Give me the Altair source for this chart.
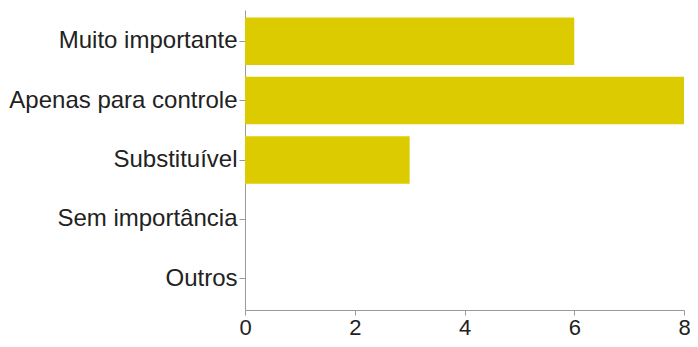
import altair as alt
import pandas as pd

categories = ["Muito importante", "Apenas para controle", "Substituível", "Sem importância", "Outros"]
counts = [6, 8, 3, 0, 0]
x_ticks = [0, 2, 4, 6, 8]

df = pd.DataFrame({"categoria": categories, "n": counts})

chart = alt.Chart(df).mark_bar(color="#DCCB00").encode(
    y=alt.Y("categoria:N", sort=categories, title=None,
            scale=alt.Scale(paddingInner=0.2, paddingOuter=0.125),
            axis=alt.Axis(labelFont="Liberation Sans", labelFontSize=24, labelColor="#222222",
                          tickSize=6, labelPadding=2, domainColor="#9a9a9a", tickColor="#9a9a9a",
                          labelLimit=300)),
    x=alt.X("n:Q", title=None, scale=alt.Scale(domain=[0, 8], nice=False),
            axis=alt.Axis(values=x_ticks, grid=False, labelFont="Liberation Sans", labelFontSize=22,
                          labelColor="#222222", tickSize=5, labelPadding=2,
                          domainColor="#9a9a9a", tickColor="#9a9a9a", labelFlush=False)),
).properties(
    width=439, height=300,
    autosize=alt.AutoSizeParams(type="none"),
    padding={"left": 237, "top": 2, "right": 6, "bottom": 29},
).configure_view(stroke=None)

chart.save("out.html", embed_options={"renderer": "svg", "actions": False})
